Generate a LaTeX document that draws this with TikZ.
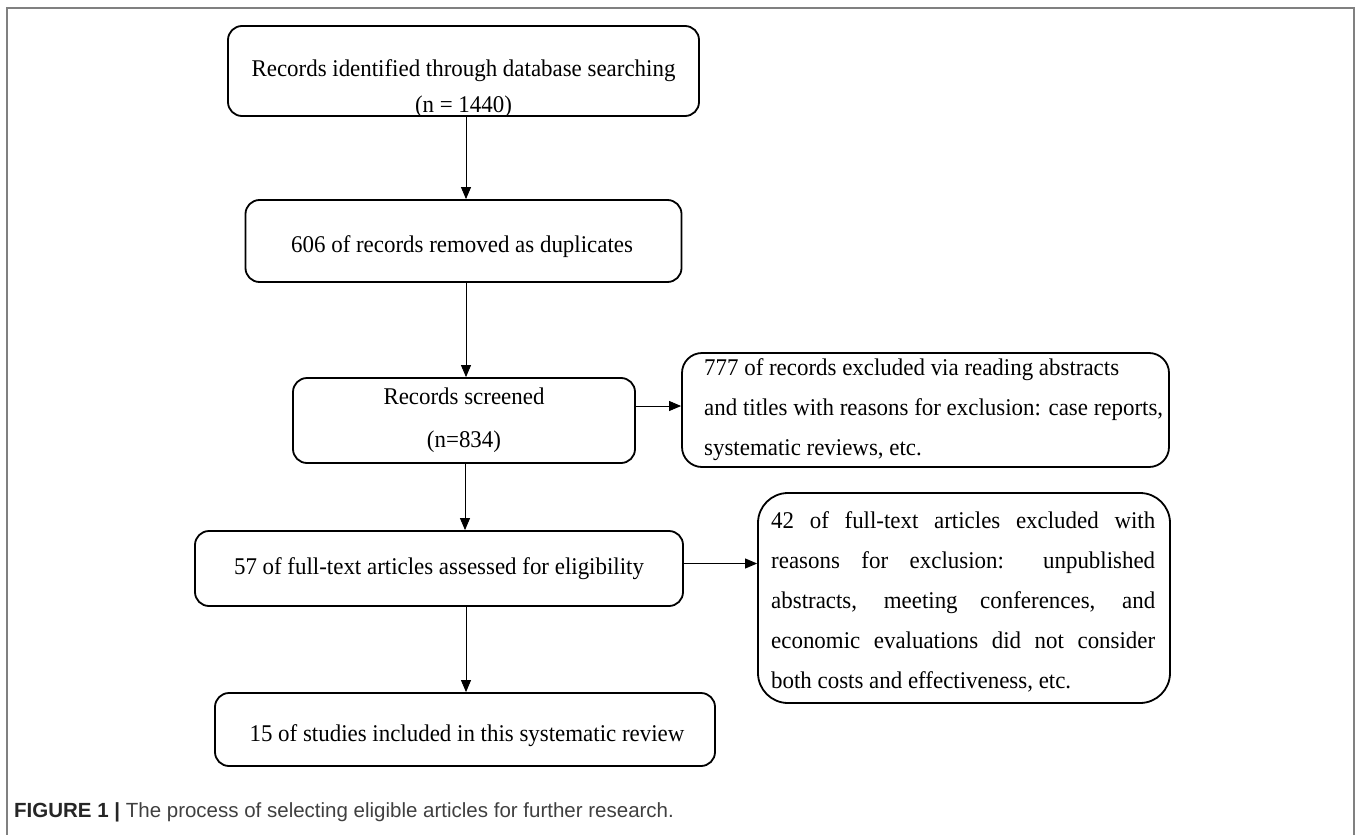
\documentclass[tikz,border=0pt]{standalone}
\usepackage{fontspec}
\setmainfont[FakeStretch=0.955]{Liberation Serif}
\newfontfamily\capfont{Liberation Sans}
\usetikzlibrary{arrows.meta}
\tikzset{
  box/.style={draw=black, line width=1.8pt, rounded corners=14pt, inner sep=0pt,
    font=\fontsize{24}{43}\selectfont, align=center},
  arr/.style={line width=0.9pt, -{Triangle[length=12pt,width=10pt]}},
  txt/.style={inner sep=0pt, font=\fontsize{24}{40}\selectfont},
  frame/.style={draw=black!50, line width=2pt}
}
\begin{document}
\begin{tikzpicture}[x=1pt,y=-1pt]
\useasboundingbox (0,0) rectangle (1358,835);
\draw[frame] (7,835) -- (7,8) -- (1354,8) -- (1354,835);

% top box
\node[box, minimum width=471pt, minimum height=90pt] (b1) at (463.5,71) {};
\node[txt] (t1a) at (463.5,71) {Records identified through database searching};
\node[txt] (t1b) at (463.5,107) {(n = 1440)};

% duplicates
\node[box, minimum width=436pt, minimum height=82pt] (b2) at (463.5,241) {};
\node[txt, anchor=west] (t2) at (291,247) {606 of records removed as duplicates};

% screened
\node[box, minimum width=342pt, minimum height=85pt] (b3) at (464,420.5)
  {Records screened\\(n=834)};

% excluded 1
\node[box, rounded corners=20pt, minimum width=487pt, minimum height=114pt] (r1) at (925.5,410) {};
\node[txt, anchor=west, align=left] (tr1) at (704,410)
  {777 of records excluded via reading abstracts\\
   and titles with reasons for exclusion: case reports,\\
   systematic reviews, etc.};

% full text
\node[box, minimum width=488pt, minimum height=75pt] (b4) at (439,568.5)
  {57 of full-text articles assessed for eligibility};

% excluded 2
\node[box, rounded corners=30pt, minimum width=412pt, minimum height=210pt] (r2) at (964,598) {};
\node[txt, anchor=west, align=left] (tr2) at (771,602)
  {\makebox[384pt][s]{42 of full-text articles excluded with}\\
   \makebox[384pt][s]{reasons for exclusion: unpublished}\\
   \makebox[384pt][s]{abstracts, meeting conferences, and}\\
   \makebox[384pt][s]{economic evaluations did not consider}\\
   both costs and effectiveness, etc.};

% included
\node[box, minimum width=500pt, minimum height=73pt] (b5) at (465,729.5) {};
\node[txt] (t5) at (467,736) {15 of studies included in this systematic review};

% connectors
\draw[arr] ([xshift=2.5pt]b1.south) -- ([xshift=2.5pt]b2.north);
\draw[arr] ([xshift=2.5pt]b2.south) -- ([xshift=2pt]b3.north);
\draw[arr] ([yshift=14.5pt]b3.east) -- ([yshift=14.5pt]b3.east -| r1.west);
\draw[arr] ([xshift=1pt]b3.south) -- ([xshift=1pt]b3.south |- b4.north);
\draw[arr] ([yshift=5pt]b4.east) -- ([yshift=5pt]b4.east -| r2.west);
\draw[arr] ([xshift=27pt]b4.south) -- ([xshift=27pt]b4.south |- b5.north);

% caption
\node[anchor=west, inner sep=0pt, font=\capfont\fontsize{20.5}{24}\selectfont, text=black!75] (cap) at (14,812)
  {\textbf{\color{black!85}FIGURE 1 |} The process of selecting eligible articles for further research.};
\end{tikzpicture}
\end{document}
